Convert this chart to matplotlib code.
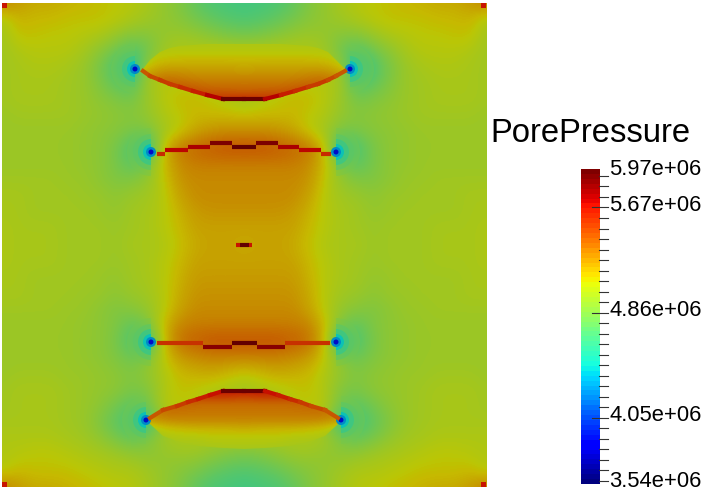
import numpy as np
import matplotlib
matplotlib.use("Agg")
import matplotlib.pyplot as plt
from matplotlib.colors import ListedColormap
from matplotlib.patches import Wedge, Circle, Polygon

plt.rcParams['font.family'] = ['Liberation Sans', 'DejaVu Sans']

V_MIN, V_MAX = 3.54e6, 5.97e6
title = "PorePressure"
tick_labels = ["5.97e+06", "5.67e+06", "4.86e+06", "4.05e+06", "3.54e+06"]
label_values = [5.97e6, 5.685e6, 4.875e6, 4.065e6, 3.56e6]
tick_values = [3.565,3.646,3.727,3.808,3.889,3.971,4.052,4.133,4.214,4.295,4.376,4.457,4.538,4.619,4.700,
               4.782,4.863,4.944,5.025,5.106,5.187,5.268,5.349,5.430,5.511,5.593,5.674,5.755,5.836,5.917]
long_ticks = [4.052, 4.863, 5.674]

# Field readings, percent of the colour range; left half of the symmetric domain
node_x = [2,18,34,50,66,83,99,115,131,147,163,179,196,212,228,244]
node_y = [3,19,35,51,67,84,100,116,132,148,164,180,197,213,229,245,261,277,293,309,326,342,358,374,390,406,422,439,455,471,487]
field_rows = [
 [74,70,68,68,67,66,65,64,63,61,58,55,50,47,46,45],
 [62,67,66,66,65,65,65,64,62,60,58,56,53,50,48,47],
 [60,65,65,64,64,63,62,59,56,56,58,59,58,56,54,53],
 [60,62,63,63,63,61,57,53,48,52,60,62,62,62,62,62],
 [60,61,62,62,61,59,54,47,36,60,62,62,63,63,63,63],
 [60,61,61,61,60,59,55,50,47,60,63,63,62,62,62,61],
 [60,61,61,61,60,59,57,55,53,59,63,66,66,64,62,60],
 [59,60,60,60,60,59,58,57,56,58,62,64,66,66,66,65],
 [59,59,59,59,59,58,57,56,54,54,60,64,69,71,72,72],
 [59,59,59,59,59,58,57,54,47,40,66,75,77,79,80,80],
 [59,59,59,59,59,58,57,54,49,54,66,72,74,74,74,74],
 [60,60,60,60,59,59,57,55,55,58,64,71,72,72,72,72],
 [61,61,60,60,60,59,59,57,59,60,63,69,72,72,72,72],
 [61,61,60,60,60,60,59,58,60,61,63,67,70,71,71,71],
 [62,61,61,61,60,60,60,59,60,61,63,66,69,69,69,69],
 [62,61,61,61,60,60,60,59,61,61,62,65,68,69,69,68],
 [62,61,61,61,60,60,60,59,60,61,63,66,69,69,69,69],
 [61,61,60,60,60,60,59,58,60,61,63,67,70,70,70,70],
 [61,61,60,60,60,59,59,57,59,60,63,68,71,71,71,71],
 [60,60,60,60,59,59,57,55,56,58,63,69,72,72,72,72],
 [59,59,59,59,59,58,57,55,50,54,66,73,74,74,74,74],
 [59,59,59,59,59,58,57,54,47,40,66,76,78,80,80,80],
 [59,59,59,59,59,58,57,55,52,55,64,70,72,73,73,73],
 [59,60,60,60,59,59,58,57,55,58,62,66,67,68,66,64],
 [60,61,61,61,60,59,58,57,54,55,62,65,64,62,61,60],
 [60,61,61,61,60,59,57,53,49,52,63,64,63,62,62,61],
 [61,61,61,61,60,59,55,50,45,42,60,62,63,63,63,62],
 [62,62,62,62,61,60,58,54,51,54,60,62,62,61,61,60],
 [62,63,64,64,63,62,61,60,58,57,58,59,59,57,55,54],
 [63,66,65,65,65,64,63,62,62,60,58,56,54,51,49,48],
 [74,70,68,68,67,66,65,64,63,61,58,55,50,47,46,45],
]

# Finer readings inside the two lens shapes beside the curved fractures
lens_x = [131,147,163,179,196,212,228,244]
lens_top_y = [44,52,60,68,76,84,92,100]
lens_top_rows = [
 [55,60,62,62,62,62,62,62],
 [52,62,63,63,63,63,63,63],
 [48,63,65,66,66,66,66,66],
 [60,66,69,69,69,69,69,68],
 [66,70,74,73,72,72,72,72],
 [68,74,78,77,76,75,75,75],
 [70,76,80,82,80,79,79,78],
 [70,76,82,84,84,84,85,86],
]
lens_bot_y = [388,396,404,412,420,428,436,444,452]
lens_bot_rows = [
 [70,72,76,80,84,88,90,90],
 [70,72,76,80,84,84,84,82],
 [70,72,76,78,76,76,76,76],
 [70,72,76,75,75,75,75,75],
 [66,70,72,73,73,73,73,73],
 [54,60,65,66,67,67,67,68],
 [52,58,62,63,63,64,64,64],
 [54,58,60,61,61,62,62,62],
 [58,58,60,60,60,60,60,60],
]
lens_top_edge = [69,60,52,48,46,45,44,44,44,44,44,45,46,48,52,60,69]
lens_bot_edge = [424,436,441,444,446,447,448,449,448,447,446,444,441,436,424]

# Wells
wells_x = [135,350,151,336,151,336,146,341]
wells_y = [69,69,152,152,342,342,420,420]
halo_radii = [24,18,13,8,5,2.5]
halo_levels = [53,49,44,37,30,14]
halo_alpha = [0.4,0.6,0.8,1,1,1]

# Small hot spots in the four corners of the domain
corner_x = [4,484,4,484]
corner_y = [5,5,485,485]
corner_levels = [88,88,88,88]

# Fractures: vertices and the level of each piece
frac_top_x = [143,150,160,170,180,193,207,223,244,265,281,295,308,318,328,336,345]
frac_top_y = [71,76,80,84,87,91,95,99,99,99,95,91,87,84,80,76,71]
frac_top_v = [79,81,83,83,85,87,91,99,99,91,87,85,83,83,81,79]
frac_bot_x = [150,163,177,188,198,210,223,244,265,278,290,300,311,325,338]
frac_bot_y = [418,410,406,402,399,395,391,391,391,395,399,402,406,410,418]
frac_bot_v = [79,81,83,85,87,89,99,99,89,87,85,83,81,79]
step_a_x = [157,165,188,210,232,256,278,299,321,331]
step_a_y = [154,150,147,143,147,143,147,150,154]
step_a_v = [85,90,92,97,100,97,92,90,85]
step_b_x = [157,203,232,257,285,330]
step_b_y = [343,347,343,347,343]
step_b_v = [84,96,100,96,84]
center_x = [236,240,249,252]
center_y = [245,245,245]
center_v = [88,100,88]

jet = plt.get_cmap('jet')(np.linspace(0, 1, 64))
bar_cmap = ListedColormap(jet)
lit = plt.get_cmap('jet')(np.linspace(0, 1, 256))
lit[:, :3] *= 0.78
field_cmap = ListedColormap(lit)

fig = plt.figure(figsize=(7.06, 4.94), dpi=100)
W, H = 706, 494
ax = fig.add_axes([2/W, 1-487/H, 484/W, 484/H])

def to_value(rows):
    half = np.array(rows, float)
    full = np.hstack([half, half[:, -2::-1]])
    return V_MIN + (V_MAX - V_MIN) * full / 100

ax.imshow(to_value(field_rows), cmap=field_cmap, vmin=V_MIN, vmax=V_MAX, interpolation='bicubic',
          extent=(2-8, 486+8, 487+8, 3-8), aspect='auto')

def lv(p):
    return field_cmap(np.clip(p, 0, 99.9) / 100)

lx0, lx1 = lens_x[0] - 8, 2*lens_x[-1] - lens_x[0] + 8
for rows, ys, fx, fy, edge in [(lens_top_rows, lens_top_y, frac_top_x, frac_top_y, lens_top_edge),
                               (lens_bot_rows, lens_bot_y, frac_bot_x, frac_bot_y, lens_bot_edge)]:
    im = ax.imshow(to_value(rows), cmap=field_cmap, vmin=V_MIN, vmax=V_MAX, interpolation='bicubic',
                   extent=(lx0, lx1, ys[-1]+4, ys[0]-4), aspect='auto', zorder=2)
    poly = Polygon(np.column_stack([fx + fx[::-1], fy + edge[::-1]]), closed=True,
                   transform=ax.transData, fc='none', ec='none')
    ax.add_patch(poly)
    im.set_clip_path(poly)
ax.set_xlim(2, 486); ax.set_ylim(487, 3); ax.axis('off')

ax.scatter(corner_x, corner_y, s=22, marker='s', c=[lv(p) for p in corner_levels], linewidths=0, zorder=3)

for wx, wy in zip(wells_x, wells_y):
    for r, p, a in zip(halo_radii, halo_levels, halo_alpha):
        if r > 6:
            t = (90, 270) if wx < 244 else (-90, 90)
            ax.add_patch(Wedge((wx, wy), r, t[0], t[1], fc=lv(p), ec='none', alpha=a, zorder=3))
        else:
            ax.add_patch(Circle((wx, wy), r, fc=lv(p), ec='none', alpha=a, zorder=3))

for xs, ys, vs in [(frac_top_x, frac_top_y, frac_top_v), (frac_bot_x, frac_bot_y, frac_bot_v)]:
    for i, v in enumerate(vs):
        ax.plot(xs[i:i+2], ys[i:i+2], color=lv(v), lw=3, solid_capstyle='projecting', zorder=4)
for xs, ys, vs in [(step_a_x, step_a_y, step_a_v), (step_b_x, step_b_y, step_b_v), (center_x, center_y, center_v)]:
    for i, v in enumerate(vs):
        ax.plot(xs[i:i+2], [ys[i], ys[i]], color=lv(v), lw=3, solid_capstyle='butt', zorder=4)

cax = fig.add_axes([581/W, 1-484/H, 19/W, 315/H])
cax.imshow(np.linspace(V_MIN, V_MAX, 64)[:, None], cmap=bar_cmap, vmin=V_MIN, vmax=V_MAX,
           origin='lower', extent=(581, 600, V_MIN, V_MAX), aspect='auto', interpolation='nearest')
cax.set_xlim(581, 600); cax.set_ylim(V_MIN, V_MAX); cax.axis('off')
for t in tick_values:
    x0 = 592 if t in long_ticks else 599
    cax.plot([x0, 608], [t*1e6, t*1e6], color='#333333', lw=0.8, clip_on=False, zorder=5)
for s, v in zip(tick_labels, label_values):
    cax.text(609.5, v, s, fontsize=15.8, va='center', ha='left', color='black')
fig.text(490/W, 1-134/H, title, fontsize=23.6, va='center', ha='left', color='black')

fig.savefig('out.png', dpi=100)
